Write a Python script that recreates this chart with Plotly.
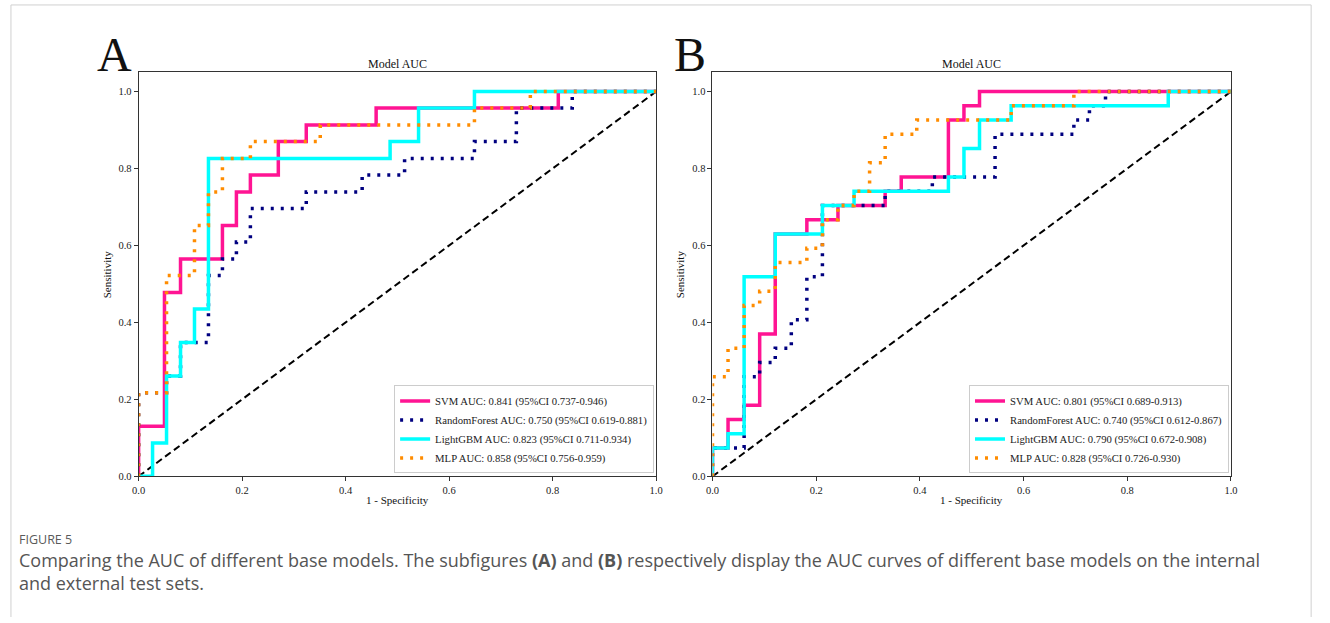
import plotly.graph_objects as go

W, H = 1330, 623

# ---------------- Data (ROC vertices) ----------------
# Panel A: internal test set
svm_a_fpr = [0, 0, 0.050, 0.050, 0.081, 0.081, 0.162, 0.162, 0.189, 0.189, 0.216, 0.216, 0.270, 0.270, 0.324, 0.324, 0.459, 0.459, 0.811, 0.811, 1]
svm_a_tpr = [0, 0.130, 0.130, 0.478, 0.478, 0.565, 0.565, 0.652, 0.652, 0.739, 0.739, 0.783, 0.783, 0.870, 0.870, 0.913, 0.913, 0.957, 0.957, 1, 1]

rf_a_fpr = [0, 0, 0.054, 0.054, 0.081, 0.081, 0.135, 0.135, 0.162, 0.162, 0.189, 0.189, 0.216, 0.216, 0.324, 0.324, 0.432, 0.432, 0.514, 0.514, 0.649, 0.649, 0.730, 0.730, 0.838, 0.838, 1]
rf_a_tpr = [0, 0.217, 0.217, 0.261, 0.261, 0.348, 0.348, 0.522, 0.522, 0.565, 0.565, 0.609, 0.609, 0.696, 0.696, 0.739, 0.739, 0.783, 0.783, 0.826, 0.826, 0.870, 0.870, 0.957, 0.957, 1, 1]

lgb_a_fpr = [0, 0.027, 0.027, 0.054, 0.054, 0.081, 0.081, 0.108, 0.108, 0.135, 0.135, 0.486, 0.486, 0.541, 0.541, 0.649, 0.649, 1]
lgb_a_tpr = [0, 0, 0.087, 0.087, 0.261, 0.261, 0.348, 0.348, 0.435, 0.435, 0.826, 0.826, 0.870, 0.870, 0.957, 0.957, 1, 1]

mlp_a_fpr = [0, 0, 0.054, 0.054, 0.108, 0.108, 0.135, 0.135, 0.162, 0.162, 0.216, 0.216, 0.351, 0.351, 0.649, 0.649, 0.757, 0.757, 1]
mlp_a_tpr = [0, 0.217, 0.217, 0.522, 0.522, 0.652, 0.652, 0.739, 0.739, 0.826, 0.826, 0.870, 0.870, 0.913, 0.913, 0.957, 0.957, 1, 1]

# Panel B: external test set
svm_b_fpr = [0, 0, 0.030, 0.030, 0.061, 0.061, 0.091, 0.091, 0.121, 0.121, 0.182, 0.182, 0.242, 0.242, 0.333, 0.333, 0.364, 0.364, 0.455, 0.455, 0.485, 0.485, 0.515, 0.515, 1]
svm_b_tpr = [0, 0.074, 0.074, 0.148, 0.148, 0.185, 0.185, 0.370, 0.370, 0.630, 0.630, 0.667, 0.667, 0.704, 0.704, 0.741, 0.741, 0.778, 0.778, 0.926, 0.926, 0.963, 0.963, 1, 1]

rf_b_fpr = [0, 0, 0.061, 0.061, 0.091, 0.091, 0.121, 0.121, 0.152, 0.152, 0.182, 0.182, 0.212, 0.212, 0.333, 0.333, 0.424, 0.424, 0.545, 0.545, 0.697, 0.697, 0.727, 0.727, 0.758, 0.758, 1]
rf_b_tpr = [0, 0.074, 0.074, 0.259, 0.259, 0.296, 0.296, 0.333, 0.333, 0.407, 0.407, 0.519, 0.519, 0.704, 0.704, 0.741, 0.741, 0.778, 0.778, 0.889, 0.889, 0.926, 0.926, 0.963, 0.963, 1, 1]

lgb_b_fpr = [0, 0, 0.030, 0.030, 0.061, 0.061, 0.121, 0.121, 0.212, 0.212, 0.273, 0.273, 0.455, 0.455, 0.485, 0.485, 0.515, 0.515, 0.576, 0.576, 0.879, 0.879, 1]
lgb_b_tpr = [0, 0.074, 0.074, 0.111, 0.111, 0.519, 0.519, 0.630, 0.630, 0.704, 0.704, 0.741, 0.741, 0.778, 0.778, 0.852, 0.852, 0.926, 0.926, 0.963, 0.963, 1, 1]

mlp_b_fpr = [0, 0, 0.030, 0.030, 0.061, 0.061, 0.091, 0.091, 0.121, 0.121, 0.182, 0.182, 0.212, 0.212, 0.242, 0.242, 0.273, 0.273, 0.303, 0.303, 0.333, 0.333, 0.394, 0.394, 0.576, 0.576, 0.697, 0.697, 1]
mlp_b_tpr = [0, 0.259, 0.259, 0.333, 0.333, 0.444, 0.444, 0.481, 0.481, 0.556, 0.556, 0.593, 0.593, 0.667, 0.667, 0.704, 0.704, 0.741, 0.741, 0.815, 0.815, 0.889, 0.889, 0.926, 0.926, 0.963, 0.963, 1, 1]

labels_a = [
    "SVM AUC: 0.841 (95%CI 0.737-0.946)",
    "RandomForest AUC: 0.750 (95%CI 0.619-0.881)",
    "LightGBM AUC: 0.823 (95%CI 0.711-0.934)",
    "MLP AUC: 0.858 (95%CI 0.756-0.959)",
]
labels_b = [
    "SVM AUC: 0.801 (95%CI 0.689-0.913)",
    "RandomForest AUC: 0.740 (95%CI 0.612-0.867)",
    "LightGBM AUC: 0.790 (95%CI 0.672-0.908)",
    "MLP AUC: 0.828 (95%CI 0.726-0.930)",
]
tick_vals = [0.0, 0.2, 0.4, 0.6, 0.8, 1.0]
chance_line = [0, 1]

# ---------------- Styles ----------------
SERIF = "Liberation Serif, Times New Roman, serif"
SANS = "Open Sans, Noto Sans, sans-serif"
styles = [
    dict(color="#FF1493", width=3.5, dash="solid"),
    dict(color="#000080", width=3.5, dash="3px,7px"),
    dict(color="#00FFFF", width=3.5, dash="solid"),
    dict(color="#FF8C00", width=3.5, dash="3px,7px"),
]

fig = go.Figure()

def add_panel(curves, labels, xa, ya, legend):
    fig.add_trace(go.Scatter(x=chance_line, y=chance_line, mode="lines",
                             line=dict(color="black", width=2, dash="7px,4px"),
                             showlegend=False, xaxis=xa, yaxis=ya, hoverinfo="skip"))
    for (fx, ty), lab, st in zip(curves, labels, styles):
        fig.add_trace(go.Scatter(x=fx, y=ty, mode="lines", name=lab, line=st,
                                 xaxis=xa, yaxis=ya, legend=legend))

add_panel([(svm_a_fpr, svm_a_tpr), (rf_a_fpr, rf_a_tpr), (lgb_a_fpr, lgb_a_tpr), (mlp_a_fpr, mlp_a_tpr)],
          labels_a, "x", "y", "legend")
add_panel([(svm_b_fpr, svm_b_tpr), (rf_b_fpr, rf_b_tpr), (lgb_b_fpr, lgb_b_tpr), (mlp_b_fpr, mlp_b_tpr)],
          labels_b, "x2", "y2", "legend2")

def px_x(p):
    return p / W

def px_y(p):
    return 1 - p / H

y_dom = [px_y(481), px_y(73)]
xa_dom = [px_x(133), px_x(656)]
xb_dom = [px_x(713), px_x(1237)]

axis_common = dict(showline=True, mirror=True, linecolor="#333", linewidth=1,
                   ticks="outside", ticklen=4, tickcolor="#333", tickwidth=1,
                   showgrid=False, zeroline=False, tickvals=tick_vals, tickformat=".1f",
                   tickfont=dict(family=SERIF, size=10.5, color="#222"))

legend_common = dict(font=dict(family=SERIF, size=10.7, color="#222"),
                     bgcolor="rgba(255,255,255,0.9)", bordercolor="#cccccc", borderwidth=1,
                     xanchor="right", yanchor="bottom", tracegroupgap=0, itemwidth=30)

fig.update_layout(
    width=W, height=H,
    margin=dict(l=0, r=0, t=0, b=0),
    paper_bgcolor="white", plot_bgcolor="white",
    xaxis=dict(domain=xa_dom, range=[0, 1], anchor="y", **axis_common),
    yaxis=dict(domain=y_dom, range=[0, 1.05], anchor="x", **axis_common),
    xaxis2=dict(domain=xb_dom, range=[0, 1], anchor="y2", **axis_common),
    yaxis2=dict(domain=y_dom, range=[0, 1.05], anchor="x2", **axis_common),
    legend=dict(x=px_x(654), y=px_y(478), **legend_common),
    legend2=dict(x=px_x(1235), y=px_y(478), **legend_common),
    showlegend=True,
)

ann = []
for cx, letter, pl, pr in [(109, "A", 133, 656), (690, "B", 713, 1237)]:
    mid = (pl + pr) / 2
    ann.append(dict(x=px_x(cx), y=px_y(55), text=letter, showarrow=False,
                    xanchor="center", yanchor="middle",
                    font=dict(family=SERIF, size=48, color="#111")))
    ann.append(dict(x=px_x(mid), y=px_y(65), text="Model AUC", showarrow=False,
                    xanchor="center", yanchor="middle",
                    font=dict(family=SERIF, size=12, color="#111")))
    ann.append(dict(x=px_x(mid), y=px_y(505), text="1 - Specificity", showarrow=False,
                    xanchor="center", yanchor="middle",
                    font=dict(family=SERIF, size=11, color="#111")))
    ann.append(dict(x=px_x(pl - 32), y=px_y(277), text="Sensitivity", showarrow=False,
                    textangle=-90, xanchor="center", yanchor="middle",
                    font=dict(family=SERIF, size=11, color="#111")))

ann.append(dict(x=px_x(10), y=px_y(545), text="FIGURE 5", showarrow=False,
                xanchor="left", yanchor="middle",
                font=dict(family=SANS, size=12.5, color="#5a5a5a")))
ann.append(dict(x=px_x(10), y=px_y(577),
                text="Comparing the AUC of different base models. The subfigures <b>(A)</b> and <b>(B)</b> respectively display the AUC curves of different base models on the internal"
                     "<br>and external test sets.",
                showarrow=False, xanchor="left", yanchor="middle", align="left",
                font=dict(family=SANS, size=18, color="#555555")))
for a in ann:
    a["xref"] = "paper"
    a["yref"] = "paper"
fig.update_layout(annotations=ann)

# thin card border around the figure
border = dict(color="#d0d0d0", width=1)
fig.add_shape(type="line", xref="paper", yref="paper", x0=px_x(4), x1=px_x(4), y0=0, y1=px_y(5), line=border)
fig.add_shape(type="line", xref="paper", yref="paper", x0=px_x(4), x1=px_x(1318), y0=px_y(5), y1=px_y(5), line=border)
fig.add_shape(type="line", xref="paper", yref="paper", x0=px_x(1318), x1=px_x(1318), y0=0, y1=px_y(5), line=border)

fig.write_html("out.html",
               config={"displayModeBar": False},
               post_script="document.body.style.margin='0';document.body.style.overflow='hidden';")
